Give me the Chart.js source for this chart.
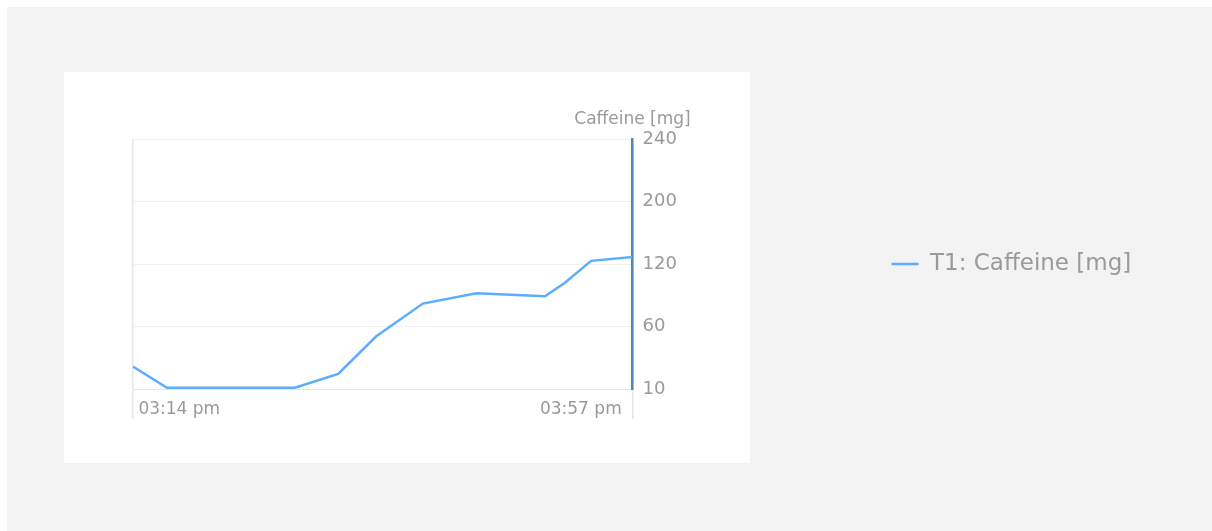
<!DOCTYPE html>
<html>
<head>
<meta charset="utf-8">
<script src="https://cdn.jsdelivr.net/npm/chart.js@4/dist/chart.umd.min.js"></script>
<style>
  html, body { margin: 0; padding: 0; background: #ffffff; }
  #frame {
    position: absolute; left: 7px; top: 7px; width: 1205px; height: 524px;
    background: #f3f3f3; overflow: hidden;
  }
  #panel {
    position: absolute; left: 57px; top: 65px; width: 686px; height: 391px;
    background: #ffffff;
  }
  #chart { position: absolute; left: 0; top: 0; }
</style>
</head>
<body>
<div id="frame">
  <div id="panel"></div>
  <canvas id="chart" width="1205" height="524"></canvas>
</div>
<script>
// Sample times (hh:mm:ss) and caffeine readings in mg
const sampleTimes = ['15:14:00', '15:16:55', '15:27:56', '15:31:40', '15:34:55', '15:38:57',
                     '15:43:34', '15:49:28', '15:51:11', '15:53:26', '15:57:00'];
const caffeineMg = [28, 11, 11, 22, 52, 82, 92, 89, 102, 124, 129];
// Tick values on the caffeine axis, drawn evenly spaced
const yTickValues = [10, 60, 120, 200, 240];
const seriesLabel = 'T1: Caffeine [mg]';
const axisTitle = 'Caffeine [mg]';

const FONT = "'DejaVu Sans', sans-serif";
const TEXT = '#9a9a9a';

function toMinutes(t) {
  const [h, m, s] = t.split(':').map(Number);
  return h * 60 + m + (s || 0) / 60;
}
function fmtTime(min) {
  const h = Math.floor(min / 60), m = Math.round(min % 60);
  const h12 = ((h + 11) % 12) + 1;
  return String(h12).padStart(2, '0') + ':' + String(m).padStart(2, '0') + (h >= 12 ? ' pm' : ' am');
}
// position of a mg value between the evenly spaced ticks
function tickIndex(v) {
  for (let i = 0; i < yTickValues.length - 1; i++) {
    const a = yTickValues[i], b = yTickValues[i + 1];
    if (v <= b || i === yTickValues.length - 2) return i + (v - a) / (b - a);
  }
  return 0;
}

const xs = sampleTimes.map(toMinutes);
const points = xs.map((x, i) => ({ x, y: tickIndex(caffeineMg[i]) }));

const axisTitlePlugin = {
  id: 'axisTitle',
  afterDraw(chart) {
    const y = chart.scales.y, ctx = chart.ctx;
    ctx.save();
    ctx.font = '17px ' + FONT;
    ctx.fillStyle = TEXT;
    ctx.textAlign = 'center';
    ctx.textBaseline = 'middle';
    ctx.fillText(axisTitle, y.left, chart.chartArea.top - 19);
    ctx.restore();
  }
};

new Chart(document.getElementById('chart'), {
  type: 'line',
  data: {
    datasets: [{
      label: seriesLabel,
      data: points,
      borderColor: '#5cadff',
      backgroundColor: '#5cadff',
      borderWidth: 2.5,
      pointRadius: 0,
      tension: 0,
      fill: false
    }]
  },
  options: {
    responsive: false,
    animation: false,
    layout: { padding: { left: 126, top: 132, right: 81, bottom: 106 } },
    plugins: {
      tooltip: { enabled: false },
      legend: {
        position: 'right',
        fullSize: false,
        labels: {
          usePointStyle: true,
          pointStyle: 'line',
          pointStyleWidth: 27,
          font: { family: FONT, size: 23 },
          color: TEXT,
          padding: 10
        }
      }
    },
    scales: {
      x: {
        type: 'linear',
        min: xs[0],
        max: xs[xs.length - 1],
        afterBuildTicks(scale) {
          scale.ticks = [{ value: scale.min }, { value: scale.max }];
        },
        afterFit(scale) { scale.height = 36; },
        grid: { color: '#e6e6e6', lineWidth: 1.5, tickLength: 30 },
        border: { color: '#e8e8e8', width: 1 },
        ticks: {
          align: 'inner',
          autoSkip: false,
          padding: -20,
          maxRotation: 0,
          font: { family: FONT, size: 17 },
          color: TEXT,
          callback: v => ' ' + fmtTime(v) + '  '
        }
      },
      y: {
        position: 'right',
        min: 0,
        max: yTickValues.length - 1,
        afterFit(scale) { scale.width = 249; },
        grid: { color: '#f0f0f0', lineWidth: 1, drawTicks: false },
        border: { color: '#5088b3', width: 2.5 },
        ticks: {
          stepSize: 1,
          padding: 10,
          font: { family: FONT, size: 18 },
          color: TEXT,
          callback: v => yTickValues[v]
        }
      }
    }
  },
  plugins: [axisTitlePlugin]
});
</script>
</body>
</html>
